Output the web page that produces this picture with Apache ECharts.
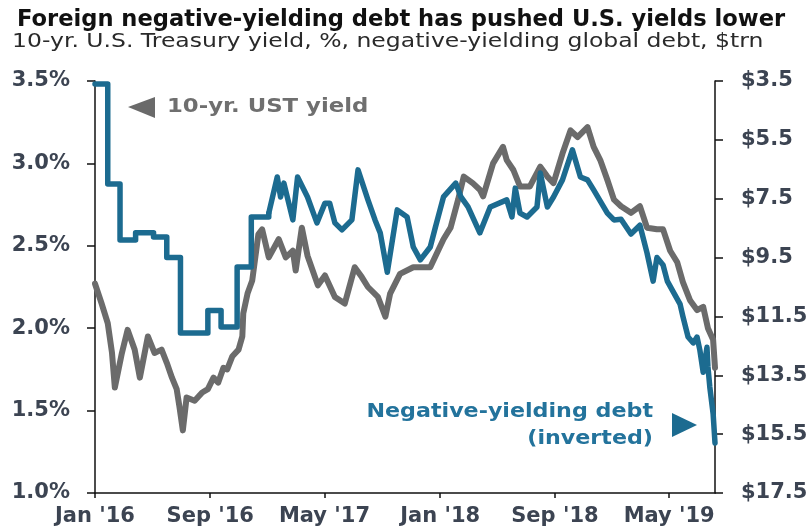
<!DOCTYPE html>
<html>
<head>
<meta charset="utf-8">
<script src="https://cdn.jsdelivr.net/npm/echarts@6/dist/echarts.min.js"></script>
<style>
  html, body { margin: 0; padding: 0; background: #fff; }
  #chart { width: 812px; height: 529px; }
</style>
</head>
<body>
<div id="chart"></div>
<script>
// ---- Data ----
const titleText = 'Foreign negative-yielding debt has pushed U.S. yields lower';
const subtitleText = '10-yr. U.S. Treasury yield, %, negative-yielding global debt, $trn';
const yieldNote = '10-yr. UST yield';
const debtNote = ['Negative-yielding debt', '(inverted)'];

const tickDates = ['2016-01-01', '2016-09-01', '2017-05-01', '2018-01-01', '2018-09-01', '2019-05-01'];
const tickLabels = ["Jan '16", "Sep '16", "May '17", "Jan '18", "Sep '18", "May '19"];
const xStart = '2016-01-01';
const xEnd = '2019-08-06';

const yieldTicks = [1.0, 1.5, 2.0, 2.5, 3.0, 3.5];
const debtTicks = [3.5, 5.5, 7.5, 9.5, 11.5, 13.5, 15.5, 17.5];

// 10-yr UST yield, %
const yieldDates = [
  '2016-01-01','2016-01-05','2016-01-15','2016-01-28','2016-02-06','2016-02-12','2016-02-27','2016-03-10',
  '2016-03-25','2016-04-05','2016-04-22','2016-05-06','2016-05-21','2016-06-01','2016-06-12','2016-06-22',
  '2016-06-28','2016-07-05','2016-07-13','2016-07-30','2016-08-15','2016-08-27','2016-09-08','2016-09-18',
  '2016-09-29','2016-10-07','2016-10-18','2016-10-31','2016-11-08','2016-11-10','2016-11-19','2016-11-29',
  '2016-12-12','2016-12-20','2017-01-03','2017-01-24','2017-02-08','2017-02-23','2017-03-01','2017-03-14',
  '2017-03-26','2017-04-17','2017-05-02','2017-05-23','2017-06-13','2017-07-04','2017-07-19','2017-08-01',
  '2017-08-22','2017-09-07','2017-09-17','2017-10-08','2017-11-05','2017-12-11','2018-01-08','2018-01-23',
  '2018-02-08','2018-02-20','2018-03-11','2018-03-26','2018-04-02','2018-04-23','2018-05-14','2018-05-22',
  '2018-06-05','2018-06-19','2018-07-10','2018-08-01','2018-08-16','2018-08-29','2018-09-17','2018-10-04',
  '2018-10-19','2018-11-09','2018-11-22','2018-12-06','2018-12-21','2019-01-04','2019-01-19','2019-02-09',
  '2019-02-28','2019-03-15','2019-04-05','2019-04-18','2019-05-03','2019-05-18','2019-05-30','2019-06-14',
  '2019-06-29','2019-07-12','2019-07-22','2019-08-02','2019-08-06'
];
const yieldValues = [
  2.27, 2.27, 2.15, 2.03, 1.85, 1.64, 1.85, 1.99,
  1.87, 1.70, 1.95, 1.85, 1.87, 1.79, 1.70, 1.63,
  1.52, 1.38, 1.58, 1.56, 1.61, 1.63, 1.70, 1.67,
  1.76, 1.75, 1.83, 1.87, 1.95, 2.09, 2.21, 2.29,
  2.57, 2.60, 2.43, 2.54, 2.43, 2.47, 2.35, 2.61,
  2.44, 2.26, 2.32, 2.19, 2.15, 2.37, 2.31, 2.25,
  2.19, 2.07, 2.21, 2.33, 2.37, 2.37, 2.54, 2.61,
  2.78, 2.92, 2.88, 2.84, 2.80, 3.00, 3.10, 3.02,
  2.96, 2.86, 2.86, 2.98, 2.92, 2.88, 3.06, 3.20,
  3.16, 3.22, 3.10, 3.02, 2.90, 2.78, 2.74, 2.70,
  2.74, 2.61, 2.60, 2.60, 2.47, 2.40, 2.28, 2.17,
  2.11, 2.13, 2.00, 1.93, 1.76
];

// Negative-yielding global debt, $trn (monthly in 2016)
const debtMonthlyDates = [
  '2016-01-01','2016-01-28','2016-02-23','2016-03-27','2016-05-04','2016-06-01',
  '2016-06-30','2016-08-27','2016-09-24','2016-10-28','2016-11-27','2017-01-03'
];
const debtMonthlyValues = [3.6, 7.0, 8.9, 8.66, 8.8, 9.5, 12.06, 11.3, 11.86, 9.82, 8.12, 7.99];

// Negative-yielding global debt, $trn (daily from 2017)
const debtDailyDates = [
  '2017-01-03','2017-01-21','2017-01-28','2017-02-04','2017-02-23','2017-03-05','2017-03-26','2017-04-15',
  '2017-05-02','2017-05-12','2017-05-23','2017-06-07','2017-06-28','2017-07-11','2017-08-01','2017-08-16',
  '2017-08-27','2017-09-11','2017-10-02','2017-10-23','2017-11-05','2017-11-20','2017-12-11','2017-12-22',
  '2018-01-08','2018-02-03','2018-02-14','2018-03-01','2018-03-26','2018-04-17','2018-05-22','2018-06-02',
  '2018-06-09','2018-06-19','2018-07-04','2018-07-25','2018-08-01','2018-08-16','2018-08-29','2018-09-17',
  '2018-10-08','2018-10-25','2018-11-09','2018-11-22','2018-12-21','2019-01-04','2019-01-19','2019-02-09',
  '2019-02-28','2019-03-15','2019-03-28','2019-04-05','2019-04-18','2019-04-27','2019-05-09','2019-05-24',
  '2019-05-30','2019-06-10','2019-06-21','2019-06-29','2019-07-05','2019-07-12','2019-07-20','2019-07-22',
  '2019-07-26','2019-08-02','2019-08-06'
];
const debtDailyValues = [
  7.99, 6.76, 7.44, 6.97, 8.22, 6.76, 7.44, 8.32,
  7.65, 7.65, 8.32, 8.56, 8.22, 6.52, 7.54, 8.22,
  8.66, 10.0, 7.88, 8.12, 9.14, 9.58, 9.14, 8.46,
  7.44, 6.97, 7.44, 7.78, 8.66, 7.78, 7.54, 8.12,
  7.14, 7.99, 8.12, 7.78, 6.63, 7.78, 7.44, 6.86,
  5.84, 6.76, 6.86, 7.2, 7.99, 8.22, 8.2, 8.7,
  8.4, 9.34, 10.3, 9.5, 9.75, 10.3, 10.65, 11.08,
  11.5, 12.2, 12.4, 12.2, 12.65, 13.4, 12.55, 13.2,
  13.9, 14.8, 15.8
];

// ---- Styles ----
const FONT = 'DejaVu Sans';
const GRAY = '#6b6b6b';
const BLUE = '#1c6b90';
const LABEL = '#3c4452';

const ts = d => Date.parse(d + 'T00:00:00Z');
const zip = (a, b) => a.map((d, i) => [ts(d), b[i]]);
const tickTs = tickDates.map(ts);
function xLabel(v) {
  const i = tickTs.findIndex(t => Math.abs(t - v) < 86400000);
  return i >= 0 ? tickLabels[i] : '';
}
const labelStyle = { fontFamily: FONT, fontSize: 21, fontWeight: 'bold', color: LABEL };

const chart = echarts.init(document.getElementById('chart'), null, { renderer: 'canvas' });
chart.setOption({
  animation: false,
  backgroundColor: '#fff',
  title: {
    text: titleText,
    left: 12,
    top: 4,
    textStyle: { fontFamily: FONT, fontSize: 22.6, fontWeight: 'bold', color: '#111' }
  },
  grid: { left: 95, right: 97, top: 81, bottom: 36, containLabel: false },
  xAxis: {
    type: 'value',
    min: ts(xStart),
    max: ts(xEnd),
    splitLine: { show: false },
    axisLine: { lineStyle: { color: '#111', width: 1.5 } },
    axisTick: { show: true, length: 5, customValues: tickTs, lineStyle: { color: '#111', width: 1.5 } },
    axisLabel: Object.assign({ customValues: tickTs, formatter: xLabel, margin: 13 }, labelStyle)
  },
  yAxis: [
    {
      type: 'value', min: 1.0, max: 3.5, interval: 0.5, position: 'left',
      splitLine: { show: false },
      axisLine: { show: true, lineStyle: { color: '#111', width: 1.5 } },
      axisTick: { show: true, length: 8, lineStyle: { color: '#111', width: 1.5 } },
      axisLabel: Object.assign({ formatter: v => v.toFixed(1) + '%', margin: 25 }, labelStyle)
    },
    {
      type: 'value', min: 3.5, max: 17.5, inverse: true, position: 'right',
      splitLine: { show: false },
      axisLine: { show: true, lineStyle: { color: '#111', width: 1.5 } },
      axisTick: { show: true, length: 8, customValues: debtTicks, lineStyle: { color: '#111', width: 1.5 } },
      axisLabel: Object.assign({ customValues: debtTicks, formatter: v => '$' + v.toFixed(1), margin: 26 }, labelStyle)
    }
  ],
  series: [
    {
      name: '10-yr. UST yield', type: 'line', yAxisIndex: 0,
      data: zip(yieldDates, yieldValues),
      showSymbol: false, z: 2,
      lineStyle: { color: GRAY, width: 6, join: 'round', cap: 'round' }
    },
    {
      name: 'Negative-yielding debt (monthly)', type: 'line', yAxisIndex: 1,
      data: zip(debtMonthlyDates, debtMonthlyValues),
      step: 'end', showSymbol: false, z: 3,
      lineStyle: { color: BLUE, width: 5.5, join: 'round', cap: 'round' }
    },
    {
      name: 'Negative-yielding debt', type: 'line', yAxisIndex: 1,
      data: zip(debtDailyDates, debtDailyValues),
      showSymbol: false, z: 3,
      lineStyle: { color: BLUE, width: 5.5, join: 'round', cap: 'round' }
    }
  ],
  graphic: [
    { type: 'text', x: 12, y: 32, scaleX: 1.175,
      style: { text: subtitleText, font: '20px "DejaVu Sans"', fill: '#2a2a2a', verticalAlign: 'top' } },
    { type: 'polygon', shape: { points: [[128, 107], [155, 97], [155, 118]] }, style: { fill: '#6a6a6a' } },
    { type: 'text', x: 167, y: 97, scaleX: 1.14,
      style: { text: yieldNote, font: 'bold 20px "DejaVu Sans"', fill: '#6f6f6f', verticalAlign: 'top' } },
    { type: 'text', x: 653, y: 402, scaleX: 1.11,
      style: { text: debtNote[0], font: 'bold 20px "DejaVu Sans"', fill: '#23739c', align: 'right', verticalAlign: 'top' } },
    { type: 'text', x: 653, y: 429, scaleX: 1.11,
      style: { text: debtNote[1], font: 'bold 20px "DejaVu Sans"', fill: '#23739c', align: 'right', verticalAlign: 'top' } },
    { type: 'polygon', shape: { points: [[672, 413], [697, 425], [672, 437]] }, style: { fill: BLUE } }
  ]
});
</script>
</body>
</html>
